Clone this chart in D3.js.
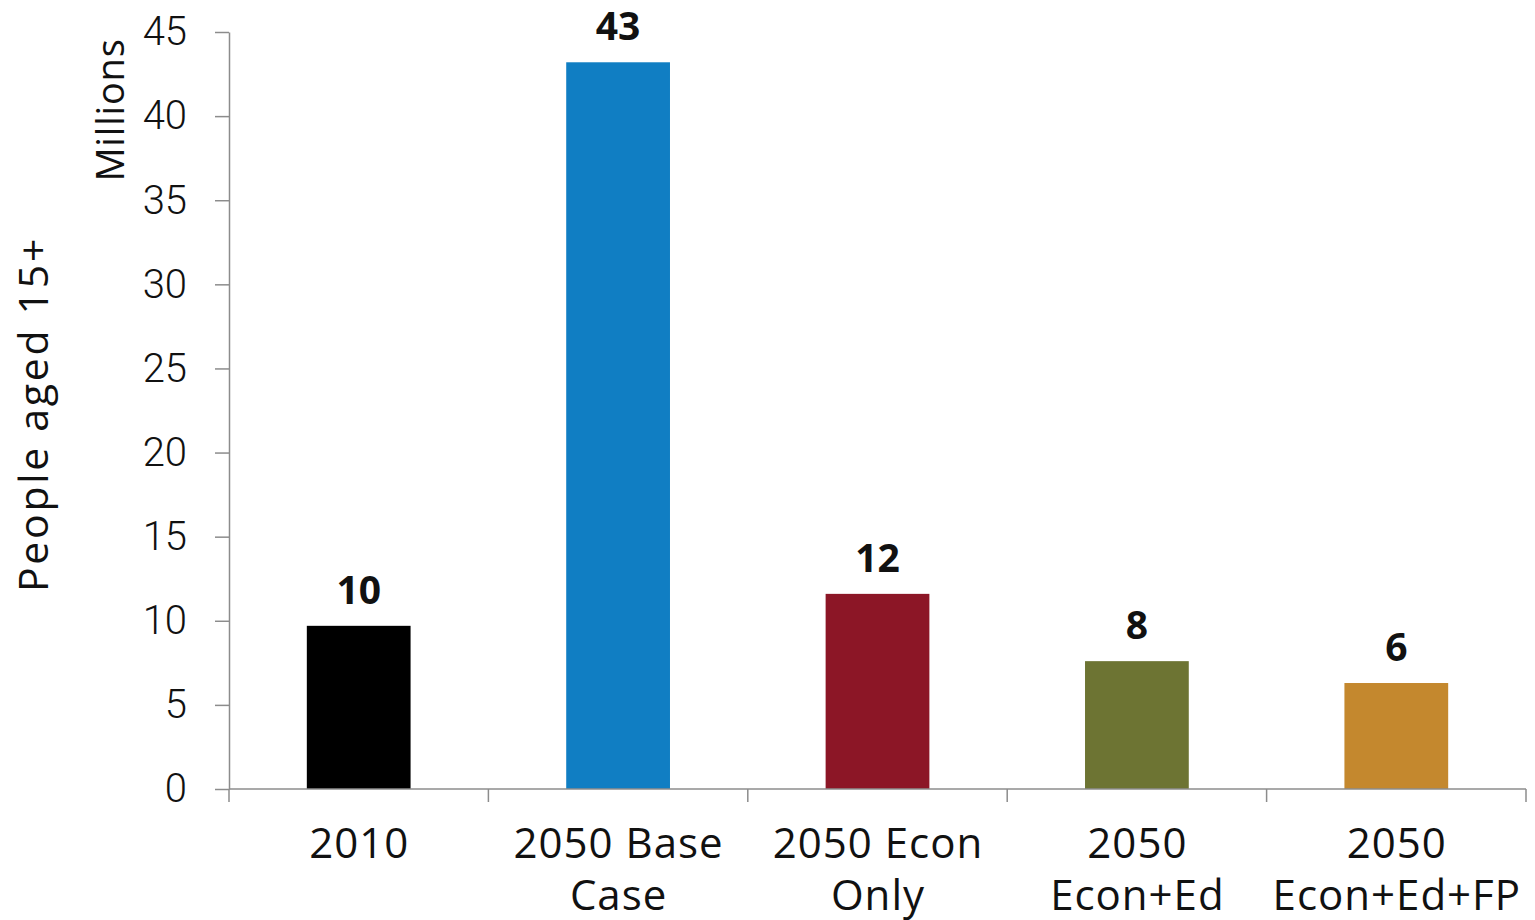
<!DOCTYPE html>
<html>
<head>
<meta charset="utf-8">
<script src="https://cdn.jsdelivr.net/npm/d3@7"></script>
<style>
  html, body { margin: 0; padding: 0; background: #ffffff; }
  svg { display: block; }
</style>
</head>
<body>
<svg id="chart" width="1535" height="920"></svg>
<script>
// Scenario categories (each split into two display lines)
const categories = ["2010", "2050 Base Case", "2050 Econ Only", "2050 Econ+Ed", "2050 Econ+Ed+FP"];
const categoryLines = [["2010"], ["2050 Base", "Case"], ["2050 Econ", "Only"], ["2050", "Econ+Ed"], ["2050", "Econ+Ed+FP"]];
// People aged 15+, millions
const values = [9.7, 43.2, 11.6, 7.6, 6.3];
const barColors = ["#000000", "#107ec3", "#8c1626", "#6d7433", "#c4882e"];
const yTicks = [0, 5, 10, 15, 20, 25, 30, 35, 40, 45];

const svg = d3.select("#chart");
const plotLeft = 229, plotRight = 1526, plotTop = 32, plotBottom = 789;
const axisColor = "#8c8c8c";

const x = d3.scaleBand().domain(categories).range([plotLeft, plotRight]).padding(0);
const y = d3.scaleLinear().domain([0, 45]).range([plotBottom, plotTop]);
const barW = x.bandwidth() * 0.4;

// Bars
svg.append("g").selectAll("rect")
  .data(values)
  .join("rect")
  .attr("x", (d, i) => x(categories[i]) + (x.bandwidth() - barW) / 2)
  .attr("y", d => y(d))
  .attr("width", barW)
  .attr("height", d => y(0) - y(d))
  .attr("fill", (d, i) => barColors[i]);

// Value labels
svg.append("g").selectAll("text")
  .data(values)
  .join("text")
  .attr("x", (d, i) => x(categories[i]) + x.bandwidth() / 2)
  .attr("y", d => y(d) - 22)
  .attr("text-anchor", "middle")
  .attr("font-family", "'Open Sans', 'Noto Sans', sans-serif")
  .attr("font-weight", 700)
  .attr("font-size", 39)
  .attr("fill", "#111")
  .text(d => d3.format(".0f")(d));

// Y axis
const yAxis = svg.append("g")
  .attr("transform", `translate(${plotLeft},0)`)
  .call(d3.axisLeft(y).tickValues(yTicks).tickSize(14).tickSizeOuter(0).tickPadding(28));
yAxis.select(".domain").attr("stroke", axisColor).attr("stroke-width", 1.5);
yAxis.selectAll(".tick line").attr("stroke", axisColor).attr("stroke-width", 1.5);
yAxis.selectAll(".tick text")
  .attr("font-family", "Roboto, sans-serif")
  .attr("font-weight", 300)
  .attr("font-size", 40)
  .attr("fill", "#111");

// X axis: baseline with ticks at band boundaries
const xAxis = svg.append("g");
xAxis.append("line")
  .attr("x1", plotLeft).attr("x2", plotRight)
  .attr("y1", y(0)).attr("y2", y(0))
  .attr("stroke", axisColor).attr("stroke-width", 1.5);
const boundaries = categories.map(c => x(c)).concat([plotRight]);
xAxis.selectAll("line.tick")
  .data(boundaries)
  .join("line")
  .attr("class", "tick")
  .attr("x1", d => d).attr("x2", d => d)
  .attr("y1", y(0)).attr("y2", y(0) + 13)
  .attr("stroke", axisColor).attr("stroke-width", 1.5);

// Category labels
const catG = svg.append("g")
  .attr("font-family", "'Open Sans', 'Noto Sans', sans-serif")
  .attr("font-size", 42)
  .attr("letter-spacing", "1px")
  .attr("fill", "#111")
  .attr("text-anchor", "middle");
categoryLines.forEach((lines, i) => {
  const cx = x(categories[i]) + x.bandwidth() / 2 + 0.5;
  const t = catG.append("text")
    .attr("x", cx)
    .attr("y", 858);
  lines.forEach((ln, j) => {
    t.append("tspan")
      .attr("x", cx)
      .attr("y", 858 + j * 52)
      .text(ln);
  });
});

// Axis titles
svg.append("text")
  .attr("transform", "translate(124,110) rotate(-90)")
  .attr("text-anchor", "middle")
  .attr("font-family", "'Open Sans', 'Noto Sans', sans-serif")
  .attr("font-size", 38)
  .attr("letter-spacing", "0.8px")
  .attr("fill", "#111")
  .text("Millions");

svg.append("text")
  .attr("transform", "translate(48,414) rotate(-90)")
  .attr("text-anchor", "middle")
  .attr("font-family", "'Open Sans', 'Noto Sans', sans-serif")
  .attr("font-size", 41)
  .attr("letter-spacing", "2.7px")
  .attr("fill", "#111")
  .text("People aged 15+");
</script>
</body>
</html>
